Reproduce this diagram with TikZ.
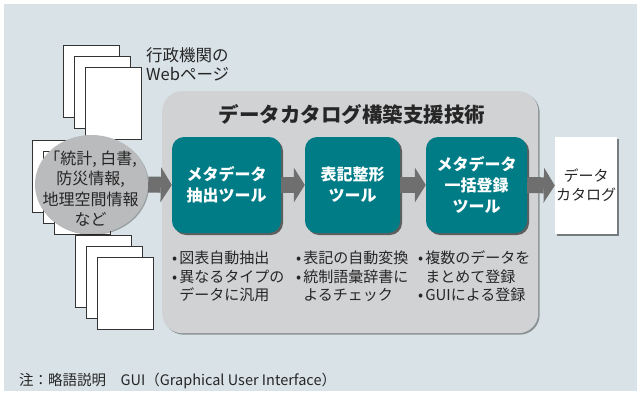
\documentclass[tikz,border=0pt]{standalone}
\usepackage{fontspec}
\setmainfont{Noto Sans CJK JP}
\usetikzlibrary{shadows,arrows.meta,shapes.geometric}
\definecolor{bg}{HTML}{D8E2E7}
\definecolor{panelc}{HTML}{D1D2D4}
\definecolor{tealc}{HTML}{007C86}
\definecolor{arrc}{HTML}{6F6F6F}
\definecolor{ellc}{HTML}{BABBBD}
\newcommand{\bul}{•\hspace{2pt}}
\newcommand{\nobul}{\phantom{•}\hspace{2pt}}
\tikzset{
  page/.style={draw=black!80, fill=white, line width=1.1pt, minimum width=56pt, minimum height=72pt, anchor=north west, inner sep=0pt},
  toolbox/.style={fill=tealc, rounded corners=12pt, inner sep=0pt, minimum height=96pt,
    text=white, font=\fontsize{16}{21}\selectfont\bfseries, align=center,
    drop shadow={shadow xshift=2pt, shadow yshift=-2pt, opacity=0.55, fill=black}},
  bigarrow/.style={draw=arrc, line width=16pt, -{Triangle[length=11pt,width=35pt,line width=0pt]}, arrc},
  bullets/.style={anchor=north west, align=left, inner sep=0pt, font=\fontsize{15}{18.5}\selectfont, text=black!85},
  lbl/.style={font=\fontsize{16.5}{19}\selectfont, text=black!85, align=center, inner sep=0pt}
}
\begin{document}
\begin{tikzpicture}[x=1pt,y=-1pt]
\useasboundingbox (0,0) rectangle (640,394);
\fill[white] (0,0) rectangle (640,394);
\fill[bg] (4,4) rectangle (637,391);

% top stack of pages
\node[page] (pa1) at (63,45) {};
\node[page] (pa2) at (74,56) {};
\node[page] (pa3) at (85,67) {};
\node[lbl, anchor=north west, align=left] (weblbl) at (146,47) {行政機関の\\Webページ};

% middle stack
\node[page] (pb1) at (32,140) {};
\node[page] (pb2) at (43,151) {};
\node[page] (pb3) at (54,162) {};

% bottom stack
\node[page] (pc1) at (75,235) {};
\node[page] (pc2) at (86,246) {};
\node[page] (pc3) at (97,257) {};

% panel
\node[fill=panelc, rounded corners=20pt, anchor=north west, minimum width=376pt, minimum height=242pt, inner sep=0pt,
  drop shadow={shadow xshift=1.5pt, shadow yshift=-1.5pt, opacity=0.35, fill=black}] (tech) at (162,91) {};
\node[font=\fontsize{20.5}{22}\selectfont\bfseries, text=black!85, inner sep=0pt] (title) at (352,115) {データカタログ構築支援技術};

% source ellipse
\node[ellipse, fill=ellc, minimum width=113pt, minimum height=99pt, inner sep=0pt,
  drop shadow={shadow xshift=1pt, shadow yshift=-1pt, opacity=0.3, fill=black}] (src) at (91.5,184.5) {};
\node[lbl, font=\fontsize{16}{20.5}\selectfont] (srctext) at (90.5,188.5) {「統計, 白書,\\防災情報,\\地理空間情報\\など};

% tools
\node[toolbox, minimum width=109pt] (b1) at (226.5,185) {メタデータ\\抽出ツール};
\node[toolbox, minimum width=95pt] (b2) at (352.5,185) {表記整形\\ツール};
\node[toolbox, minimum width=101pt] (b3) at (476.5,185) {メタデータ\\一括登録\\ツール};

% catalog
\node[fill=white, minimum width=62pt, minimum height=97pt, inner sep=0pt,
  drop shadow={shadow xshift=2pt, shadow yshift=-2pt, opacity=0.45, fill=black},
  lbl, font=\fontsize{15}{19}\selectfont] (cat) at (586,185.5) {データ\\カタログ};

% arrows
\draw[bigarrow] (src.east) -- (b1.west);
\draw[bigarrow] (b1.east) -- (b2.west);
\draw[bigarrow] (b2.east) -- (b3.west);
\draw[bigarrow] (b3.east) -- (cat.west);

% bullets
\node[bullets] (n1) at (172,251) {\bul 図表自動抽出\\\bul 異なるタイプの\\\nobul データに汎用};
\node[bullets] (n2) at (296,251) {\bul 表記の自動変換\\\bul 統制語彙辞書に\\\nobul よるチェック};
\node[bullets] (n3) at (418,251) {\bul 複数のデータを\\\nobul まとめて登録\\\bul GUIによる登録};

% footer
\node[anchor=west, inner sep=0pt, font=\fontsize{14.5}{17}\selectfont, text=black!85] (foot) at (19,381) {注：略語説明\hspace{1em}GUI（Graphical User Interface）};
\end{tikzpicture}
\end{document}
